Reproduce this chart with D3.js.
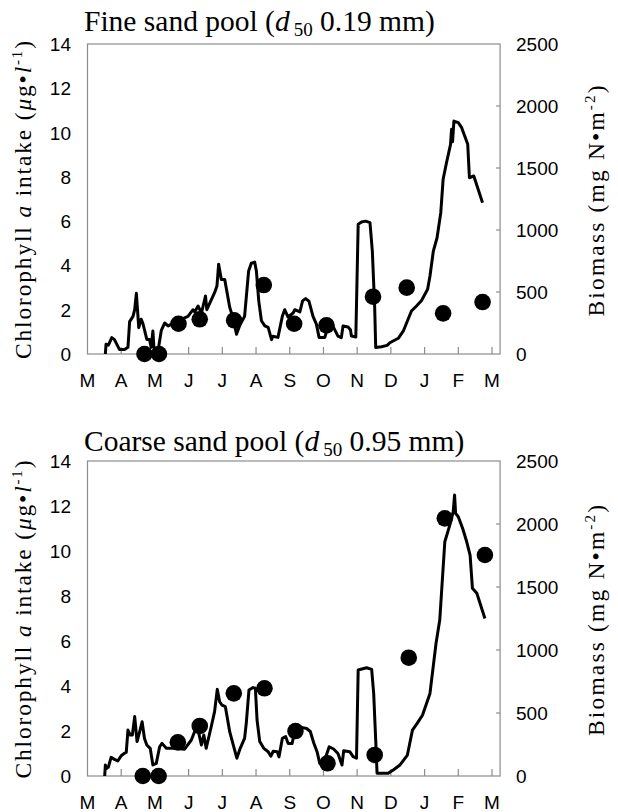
<!DOCTYPE html>
<html lang="en">
<head>
<meta charset="UTF-8">
<title>Chlorophyll a intake and biomass</title>
<style>
    body { margin: 0; background: #fff; }
    svg text { fill: #000; }
    .tick-lab { font: 19px "Liberation Sans", Arial, sans-serif; }
    .serif { font-family: "Liberation Serif", "Times New Roman", serif; }
</style>
</head>
<body>
<div id="content"></div>
<script src="https://cdn.jsdelivr.net/npm/d3@7"></script>
<script>
// months after 1 March on x
var months = ["M", "A", "M", "J", "J", "A", "S", "O", "N", "D", "J", "F", "M"];
var chlTicks = [0, 2, 4, 6, 8, 10, 12, 14];
var bioTicks = [0, 500, 1000, 1500, 2000, 2500];

// fine sand pool: chlorophyll a intake (line, left axis)
var fineChl = [[0.53,0],[0.55,0.44],[0.62,0.40],[0.72,0.74],[0.80,0.65],[0.95,0.2],[1.10,0.2],[1.20,0.3],
    [1.25,1.46],[1.35,1.7],[1.40,2.0],[1.45,2.74],[1.52,1.19],[1.59,1.57],[1.64,1.4],[1.76,0.66],[1.84,0.66],
    [1.89,0.3],[1.94,1.04],[1.97,0.3],[2.04,0.2],[2.11,0.3],[2.19,1.07],[2.29,1.4],[2.39,1.27],[2.49,1.35],
    [2.68,1.5],[2.98,1.7],[3.13,2.0],[3.18,1.9],[3.28,2.17],[3.38,1.85],[3.50,2.62],[3.54,2.0],[3.77,2.77],
    [3.84,3.07],[3.89,4.05],[3.97,3.37],[4.07,3.37],[4.22,2.1],[4.32,1.63],[4.42,0.89],[4.51,1.27],[4.66,1.7],
    [4.78,3.75],[4.86,4.1],[4.96,4.15],[5.01,3.75],[5.08,2.4],[5.16,1.5],[5.26,1.27],[5.36,1.2],[5.46,0.65],
    [5.50,0.8],[5.65,0.75],[5.78,1.7],[5.85,2.0],[5.95,1.67],[6.10,1.85],[6.15,2.0],[6.30,1.9],[6.38,2.4],
    [6.47,2.5],[6.57,2.38],[6.69,1.7],[6.79,1.35],[6.87,0.75],[7.04,0.75],[7.14,1.27],[7.30,1.2],[7.43,0.81],
    [7.53,0.74],[7.58,1.26],[7.73,1.22],[7.80,1.1],[7.83,0.81],[7.96,0.77],[8.03,5.86],[8.13,5.96],[8.25,6.0],
    [8.38,5.93],[8.45,4.65],[8.52,2.09],[8.55,0.29],[8.72,0.33],[8.89,0.39],[8.97,0.51],[9.22,0.71],[9.37,1.04],
    [9.49,1.49],[9.61,1.94],[9.76,2.17],[9.91,2.42],[10.09,2.92],[10.16,3.52],[10.26,4.65],[10.37,5.25],
    [10.48,6.38],[10.55,7.89],[10.65,8.64],[10.77,9.47],[10.80,10.15],[10.83,9.59],[10.87,10.52],[11.0,10.45],
    [11.10,10.22],[11.28,9.47],[11.33,7.96],[11.46,8.04],[11.72,6.83]];
// fine sand pool: biomass (dots, right axis)
var fineBio = [[1.69,0],[2.12,0],[2.70,244],[3.33,280],[4.35,272],[5.23,556],[6.13,244],[7.09,231],
    [8.47,462],[9.47,535],[10.55,328],[11.72,419]];

// coarse sand pool
var coarseChl = [[0.51,0],[0.53,0.49],[0.57,0.34],[0.62,0.4],[0.70,0.83],[0.80,0.74],[0.90,0.67],[1.0,0.9],
    [1.10,1.02],[1.15,1.05],[1.20,2.04],[1.27,1.82],[1.33,1.82],[1.40,2.64],[1.47,1.53],[1.55,1.98],[1.62,2.41],
    [1.69,1.67],[1.76,1.38],[1.86,1.23],[1.94,0.49],[2.04,0.56],[2.14,1.3],[2.21,1.45],[2.34,1.23],[2.58,1.23],
    [2.88,1.19],[3.08,1.6],[3.18,1.98],[3.28,2.04],[3.38,1.38],[3.45,1.82],[3.52,1.23],[3.67,2.19],[3.77,2.86],
    [3.85,3.85],[3.92,3.3],[3.99,3.15],[4.09,3.08],[4.22,1.96],[4.43,0.79],[4.53,1.23],[4.66,1.67],[4.71,2.34],
    [4.79,3.82],[4.91,3.93],[4.98,3.9],[5.03,2.49],[5.11,1.53],[5.23,1.23],[5.36,1.08],[5.44,0.88],[5.51,1.1],
    [5.63,1.08],[5.68,0.85],[5.78,1.67],[5.88,1.75],[5.95,1.45],[6.07,1.45],[6.15,1.98],[6.28,1.82],[6.35,2.16],
    [6.50,2.11],[6.61,1.98],[6.71,1.48],[6.81,1.08],[6.89,0.56],[6.99,0.49],[7.17,1.3],[7.30,1.2],[7.43,1.0],
    [7.55,0.49],[7.60,1.12],[7.78,1.08],[7.88,0.86],[7.98,0.79],[8.03,4.71],[8.28,4.81],[8.43,4.74],[8.49,3.67],
    [8.55,1.6],[8.59,0.12],[8.92,0.12],[9.07,0.27],[9.27,0.49],[9.49,0.93],[9.64,2.04],[9.78,2.34],[9.94,2.71],
    [10.16,3.67],[10.34,5.9],[10.45,6.93],[10.60,10.41],[10.75,11.16],[10.85,11.75],[10.89,12.49],[10.92,11.67],
    [11.0,11.52],[11.13,11.0],[11.25,10.41],[11.35,9.82],[11.42,8.34],[11.55,8.12],[11.79,7.0]];
var coarseBio = [[1.64,0],[2.11,0],[2.68,267],[3.33,397],[4.34,656],[5.25,696],[6.17,357],[7.12,101],
    [8.52,167],[9.53,939],[10.60,2045],[11.79,1754]];

var W = 618, H = 812;
var xEnd = 12.24; // frame runs a little past the last March tick

var svg = d3.select("#content").append("svg")
    .attr("width", W).attr("height", H);

var x = d3.scaleLinear().domain([0, 12]).range([87.5, 492]);

function panel(opt) {
    var g = svg.append("g");
    var top = opt.top, bottom = opt.bottom;
    var yL = d3.scaleLinear().domain([0, 14]).range([bottom, top]);
    var yR = d3.scaleLinear().domain([0, 2500]).range([bottom, top]);

    // frame
    g.append("rect")
        .attr("x", x(0)).attr("y", top)
        .attr("width", x(xEnd) - x(0)).attr("height", bottom - top)
        .attr("fill", "none").attr("stroke", "#8c8c8c").attr("stroke-width", 1.2);

    // month ticks (inside) + labels
    g.selectAll(".xt").data(d3.range(1, 13)).enter().append("line")
        .attr("x1", function (d) { return x(d); }).attr("x2", function (d) { return x(d); })
        .attr("y1", bottom).attr("y2", bottom - 7)
        .attr("stroke", "#8c8c8c").attr("stroke-width", 1.2);
    g.selectAll(".xl").data(months).enter().append("text")
        .attr("class", "tick-lab")
        .attr("x", function (d, i) { return x(i); })
        .attr("y", bottom + 33)
        .attr("text-anchor", "middle")
        .text(function (d) { return d; });

    // left axis labels
    g.selectAll(".yl").data(chlTicks).enter().append("text")
        .attr("class", "tick-lab")
        .attr("x", 71).attr("y", function (d) { return yL(d) + 7; })
        .attr("text-anchor", "end")
        .text(function (d) { return d; });

    // right axis ticks + labels
    g.selectAll(".rt").data(bioTicks.slice(1, -1)).enter().append("line")
        .attr("x1", x(xEnd)).attr("x2", x(xEnd) - 4)
        .attr("y1", function (d) { return yR(d); }).attr("y2", function (d) { return yR(d); })
        .attr("stroke", "#8c8c8c").attr("stroke-width", 1.2);
    g.selectAll(".rl").data(bioTicks).enter().append("text")
        .attr("class", "tick-lab")
        .attr("x", 516).attr("y", function (d) { return yR(d) + 7; })
        .text(function (d) { return d; });

    // chlorophyll line
    var line = d3.line()
        .x(function (d) { return x(d[0]); })
        .y(function (d) { return yL(d[1]); });
    g.append("path").datum(opt.chl)
        .attr("d", line)
        .attr("fill", "none").attr("stroke", "#000")
        .attr("stroke-width", 3).attr("stroke-linejoin", "round");

    // biomass dots
    g.selectAll(".dot").data(opt.bio).enter().append("circle")
        .attr("cx", function (d) { return x(d[0]); })
        .attr("cy", function (d) { return yR(d[1]); })
        .attr("r", 8.3).attr("fill", "#000");

    // title
    var t = g.append("text").attr("class", "serif")
        .attr("x", 84).attr("y", opt.titleY)
        .style("font-size", "29.5px");
    t.append("tspan").text(opt.name + " pool (");
    t.append("tspan").style("font-style", "italic").text("d");
    t.append("tspan").attr("dx", 4).attr("dy", 5).style("font-size", "19px").text("50");
    t.append("tspan").attr("dy", -5).text(" " + opt.d50 + " mm)");

    // left axis title (reference font is wide, so stretch to its length)
    var cy = (top + bottom) / 2;
    var lt = g.append("text").attr("class", "serif")
        .attr("transform", "translate(31," + (cy + 1) + ") rotate(-90)")
        .attr("text-anchor", "middle")
        .attr("textLength", 318).attr("lengthAdjust", "spacing")
        .style("font-size", "23.5px");
    lt.append("tspan").text("Chlorophyll ");
    lt.append("tspan").style("font-style", "italic").text("a");
    lt.append("tspan").text(" intake (");
    lt.append("tspan").style("font-style", "italic").text("\u03bc");
    lt.append("tspan").text("g\u2022");
    lt.append("tspan").style("font-style", "italic").text("l");
    lt.append("tspan").attr("dy", -9).style("font-size", "15px").text("-1");
    lt.append("tspan").attr("dy", 9).text(")");

    // right axis title
    var rt = g.append("text").attr("class", "serif")
        .attr("transform", "translate(604," + (cy + 2) + ") rotate(-90)")
        .attr("text-anchor", "middle")
        .attr("textLength", 231).attr("lengthAdjust", "spacing")
        .style("font-size", "23.5px");
    rt.append("tspan").text("Biomass (mg N\u2022m");
    rt.append("tspan").attr("dy", -9).style("font-size", "15px").text("-2");
    rt.append("tspan").attr("dy", 9).text(")");
}

panel({ name: "Fine sand", d50: "0.19", top: 44, bottom: 354, titleY: 31, chl: fineChl, bio: fineBio });
panel({ name: "Coarse sand", d50: "0.95", top: 461, bottom: 776, titleY: 451, chl: coarseChl, bio: coarseBio });
</script>
</body>
</html>
